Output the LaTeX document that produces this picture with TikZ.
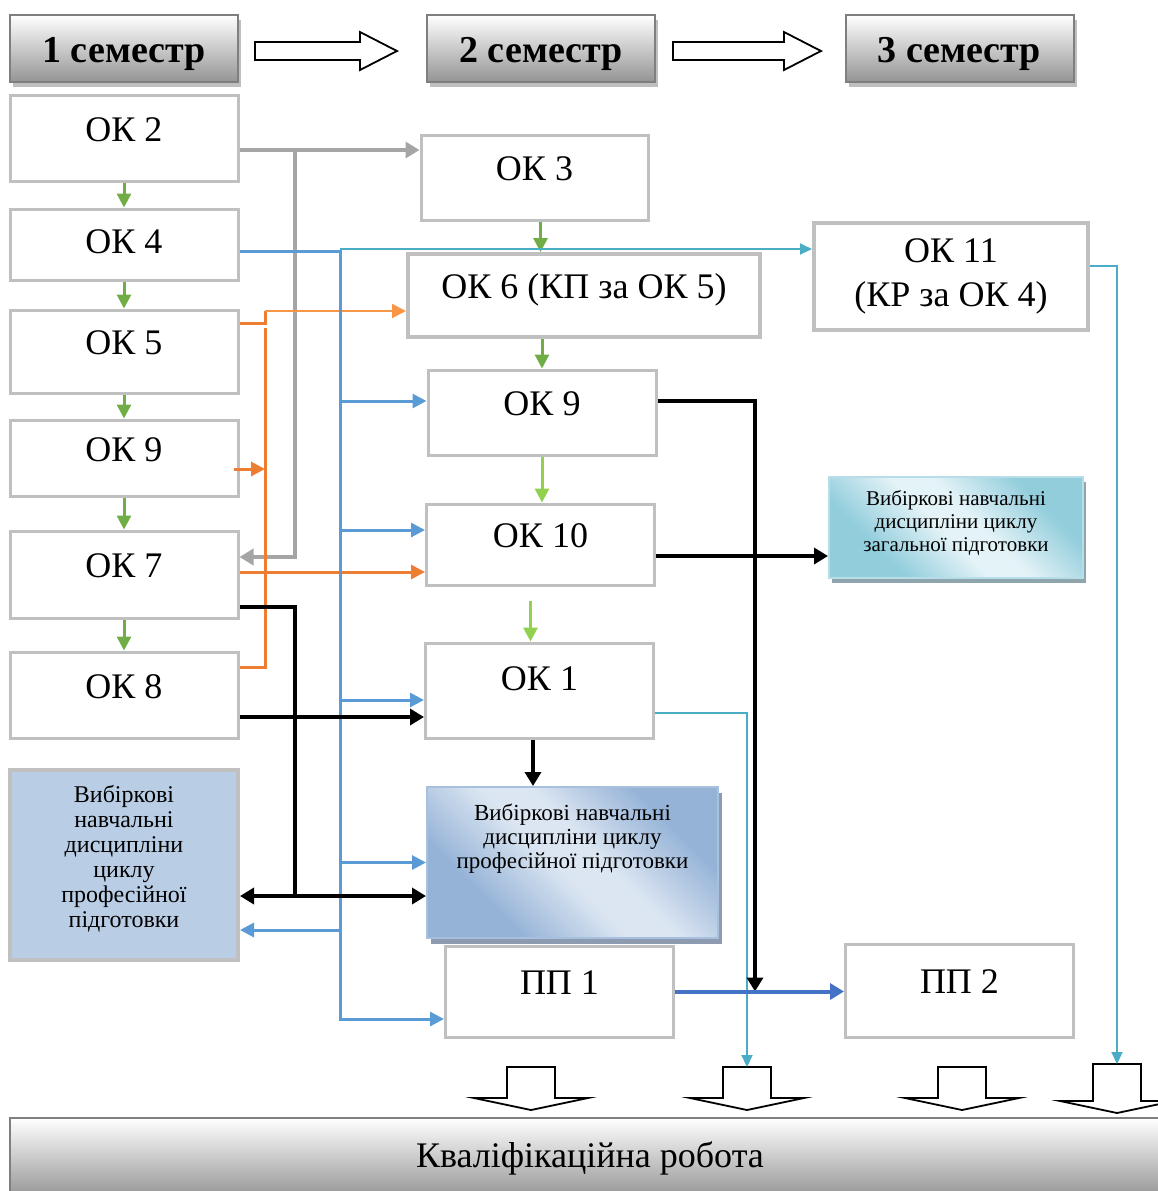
\documentclass[tikz,border=0pt]{standalone}
\usepackage{fontspec}
\setmainfont{Liberation Serif}
\usepackage{xcolor}
\usepackage{tikz}
\usetikzlibrary{shapes,arrows,arrows.meta,positioning,calc,shadows}

\definecolor{boxgrey}{HTML}{C0C0C0}
\definecolor{semborder}{HTML}{7F7F7F}
\definecolor{okgreen}{HTML}{70AD47}
\definecolor{lgreen}{HTML}{92D050}
\definecolor{linegrey}{HTML}{A5A5A5}
\definecolor{bline}{HTML}{5B9BD5}
\definecolor{cline}{HTML}{4BACC6}
\definecolor{oline}{HTML}{ED7D31}
\definecolor{loline}{HTML}{F79646}
\definecolor{dbline}{HTML}{4472C4}
\definecolor{viblfill}{HTML}{B9CDE5}
\definecolor{vibmlight}{HTML}{DCE6F2}
\definecolor{vibmdark}{HTML}{95B3D7}
\definecolor{vibmedge}{HTML}{A7C0DE}
\definecolor{vibmshadow}{HTML}{8C9BB0}
\definecolor{vibglight}{HTML}{E4F3F7}
\definecolor{vibgdark}{HTML}{92CDDC}
\definecolor{vibgedge}{HTML}{B7DEE8}
\definecolor{vibgshadow}{HTML}{8FA5AD}

\pgfdeclarehorizontalshading{bluemirror}{100bp}{color(0bp)=(vibmdark); color(30bp)=(vibmdark); color(47bp)=(vibmlight); color(55bp)=(vibmlight); color(72bp)=(vibmdark); color(100bp)=(vibmdark)}
\pgfdeclarehorizontalshading{cyanmirror}{100bp}{color(0bp)=(vibgdark); color(30bp)=(vibgdark); color(47bp)=(vibglight); color(55bp)=(vibglight); color(72bp)=(vibgdark); color(100bp)=(vibgdark)}

\tikzset{
  okbase/.style={draw=boxgrey, line width=1.5pt, fill=white, inner sep=0pt,
    minimum width=114pt, font=\fontsize{18}{22}\selectfont},
  okbox/.style={okbase, text height=13pt, text depth=10pt},
  greygrad/.style={draw=semborder, line width=1pt, top color=white, bottom color=black!42, inner sep=0pt},
  semhead/.style={greygrad, minimum width=114pt, minimum height=33.5pt,
    font=\fontsize{19}{22}\selectfont\bfseries, text height=13.5pt, text depth=0pt,
    drop shadow={shadow xshift=1.5pt, shadow yshift=-2.5pt, fill=black!25, opacity=1}},
  viblbox/.style={draw=boxgrey, line width=2pt, fill=viblfill, inner sep=0pt,
    minimum width=114pt, minimum height=95pt, text width=110pt, align=flush center,
    font=\fontsize{12}{12.5}\selectfont, text depth=71pt},
  vibmbox/.style={draw=vibmedge, line width=1pt, shading=bluemirror, shading angle=45, inner sep=0pt,
    minimum width=145.5pt, minimum height=75.5pt, text width=140pt, align=flush center,
    font=\fontsize{11.5}{12}\selectfont, text depth=50pt,
    drop shadow={shadow xshift=2pt, shadow yshift=-3pt, fill=vibmshadow, opacity=1}},
  vibgbox/.style={draw=vibgedge, line width=1pt, shading=cyanmirror, shading angle=45, inner sep=0pt,
    minimum width=127pt, minimum height=50.5pt, text width=122pt, align=flush center,
    font=\fontsize{10.5}{11.5}\selectfont, text depth=30pt,
    drop shadow={shadow xshift=1.5pt, shadow yshift=-2.5pt, fill=vibgshadow, opacity=1}},
  blockarr/.style={draw=black, line width=0.9pt, fill=white},
  greenarr/.style={draw=okgreen, line width=1.5pt, -{Triangle[length=7pt,width=7pt]}},
  lgreenarr/.style={draw=lgreen, line width=1.5pt, -{Triangle[length=7pt,width=7pt]}},
  greyarr/.style={draw=linegrey, line width=2pt, -{Triangle[length=7pt,width=8pt]}},
  bluearr/.style={draw=bline, line width=1.5pt, -{Triangle[length=7pt,width=7pt]}},
  cyanarr/.style={draw=cline, line width=1pt, -{Triangle[length=6pt,width=5.5pt]}},
  dbluearr/.style={draw=dbline, line width=2pt, -{Triangle[length=7pt,width=8pt]}},
  blackline/.style={draw=black, line width=2pt},
  blackarr/.style={blackline, -{Triangle[length=7pt,width=8pt]}},
  orangeline/.style={draw=oline, line width=1.5pt},
  orangearr/.style={orangeline, -{Triangle[length=7pt,width=7pt]}},
  lorangearr/.style={draw=loline, line width=1pt, -{Triangle[length=7pt,width=7pt]}},
}

\begin{document}
\begin{tikzpicture}[x=0.5pt, y=-0.5pt]
  \useasboundingbox (0,0) rectangle (1158,1191);

  % semesters
  \node[semhead] (sem1) at (124,48.5) {1 семестр};
  \node[semhead] (sem2) at (541,48.5) {2 семестр};
  \node[semhead] (sem3) at (959.5,48.5) {3 семестр};
  \foreach \xa/\xb in {255/397, 673/821}
    \draw[blockarr] (\xa,42) -- ({\xb-37},42) -- ({\xb-37},32) -- (\xb,51)
      -- ({\xb-37},70) -- ({\xb-37},60) -- (\xa,60) -- cycle;

  % first semester
  \node[okbox, minimum height=43pt] (ok2) at (124,138) {ОК 2};
  \node[okbox, minimum height=35.5pt, text depth=4pt] (ok4) at (124,244.5) {ОК 4};
  \node[okbox, minimum height=41.5pt] (ok5) at (124,351.5) {ОК 5};
  \node[okbox, minimum height=38pt] (ok9) at (124,458) {ОК 9};
  \node[okbox, minimum height=43.5pt] (ok7) at (124,574.5) {ОК 7};
  \node[okbox, minimum height=43pt] (ok8) at (124,695) {ОК 8};
  \node[viblbox] (vibl) at (124,865) {Вибіркові\\навчальні\\дисципліни\\циклу\\професійної\\підготовки};

  % second semester
  \node[okbox, minimum width=113.5pt, minimum height=42.5pt] (ok3) at (534.5,177.5) {ОК 3};
  \node[okbox, line width=2pt, minimum width=176pt, minimum height=41.5pt] (ok6) at (584,295.5) {ОК 6 (КП за ОК 5)};
  \node[okbox, minimum height=42.5pt] (okn9) at (542,412.5) {ОК 9};
  \node[okbox, minimum height=40.5pt] (ok10) at (540.5,544.5) {ОК 10};
  \node[okbox, minimum height=47.5pt, text depth=13pt] (ok1) at (539.5,690.5) {ОК 1};
  \node[vibmbox] (vibm) at (572.5,862.5) {Вибіркові навчальні\\дисципліни циклу\\професійної підготовки};
  \node[okbox, minimum height=45.5pt] (pp1) at (559.5,991.5) {ПП 1};

  % third semester
  \node[okbase, line width=2pt, minimum width=137pt, minimum height=53.5pt, text width=130pt, align=flush center] (ok11) at (951,276.5) {ОК 11\\(КР за ОК 4)};
  \node[vibgbox] (vibg) at (956,527.5) {Вибіркові навчальні\\дисципліни циклу\\загальної підготовки};
  \node[okbox, minimum height=46.5pt] (pp2) at (959.5,990.5) {ПП 2};

  % final work
  \node[greygrad, minimum width=580pt, minimum height=40pt, font=\fontsize{18}{22}\selectfont] (kval) at (590,1158) {Кваліфікаційна робота};
  \foreach \x/\t/\e [count=\i] in {531/1067/1098, 747/1067/1098, 962/1067/1098, 1117/1064/1101}{
    \draw[blockarr] ({\x-24},\t) -- ({\x+24},\t) -- ({\x+24},\e) -- ({\x+57},\e)
      -- (\x,{\e+12}) -- ({\x-57},\e) -- ({\x-24},\e) -- cycle;
    \coordinate (dar\i) at (\x,\t);
  }

  % green chain
  \foreach \a/\b in {ok2/ok4, ok4/ok5, ok5/ok9, ok9/ok7, ok7/ok8}
    \draw[greenarr] (\a) -- (\b);
  \draw[greenarr] ([xshift=3pt]ok3.south) -- ([xshift=3pt]ok3.south |- ok6.north);
  \draw[greenarr] (ok6.south -| okn9.north) -- (okn9.north);
  \draw[lgreenarr] (okn9.south) -- (okn9.south |- ok10.north);
  \draw[lgreenarr] ([xshift=-5pt,yshift=-7pt]ok10.south) -- ([xshift=-5pt]ok10.south |- ok1.north);

  % grey
  \draw[greyarr] ([yshift=-6pt]ok2.east) -- ([yshift=-6pt]ok2.east -| ok3.west);
  \draw[greyarr] ($(ok2.east)+(55,12)$) |- ([yshift=8.75pt]ok7.east);

  % orange
  \coordinate (obus) at (265,323);
  \draw[orangeline] ([yshift=14.25pt]ok5.east) -- (obus) -- ++(0,-12);
  \draw[lorangearr] ($(obus)+(0,-12)$) -- ([yshift=-7.75pt]ok6.west);
  \draw[orangeline] ($(obus)+(0,5)$) |- ([yshift=14pt]ok8.east);
  \draw[orangearr] ([xshift=-3pt,yshift=-5.5pt]ok9.east) -- ([yshift=-5.5pt]ok9.east -| obus);
  \draw[orangearr] ([yshift=1.25pt]ok7.east) -- ([yshift=1.25pt]ok7.east -| ok10.west);

  % blue
  \coordinate (btop) at (340,251);
  \draw[bluearr] (ok4.east |- btop) -- (btop) |- ([yshift=-13.75pt]pp1.west);
  \foreach \n/\s in {okn9/5.75pt, ok10/7.25pt, ok1/-4.75pt, vibm/0pt}
    \draw[bluearr] ([yshift=\s]\n.west -| btop) -- ([yshift=\s]\n.west);
  \draw[bluearr] ([yshift=-32.5pt]vibl.east -| btop) -- ([yshift=-32.5pt]vibl.east);

  % cyan
  \draw[cyanarr] ([yshift=13.75pt]ok11.west -| btop) -- ([yshift=13.75pt]ok11.west);
  \draw[cyanarr] ([yshift=5.25pt]ok11.east) -| (dar4);
  \draw[cyanarr] ([yshift=-11.25pt]ok1.east) -| (dar2);

  % black
  \draw[blackarr] ([yshift=5.75pt]okn9.east) -| ($(pp1.east)+(80,0)$);
  \draw[blackarr] ([yshift=-5.75pt]ok10.east) -- ([yshift=-5.75pt]ok10.east -| vibg.west);
  \coordinate (kjoin) at (295,896);
  \draw[blackline] ([yshift=-16.25pt]ok7.east) -| (kjoin);
  \draw[blackarr] (kjoin) -- (kjoin -| vibl.east);
  \draw[blackarr] (kjoin) -- (kjoin -| vibm.west);
  \draw[blackarr] ([yshift=-11pt]ok8.east) -- ([yshift=-11pt]ok8.east -| ok1.west);
  \draw[blackarr] ([xshift=-3.25pt]ok1.south) -- ([xshift=-3.25pt]ok1.south |- vibm.north);

  % practice
  \draw[dbluearr] (pp1.east) -- (pp1.east -| pp2.west);
\end{tikzpicture}
\end{document}
